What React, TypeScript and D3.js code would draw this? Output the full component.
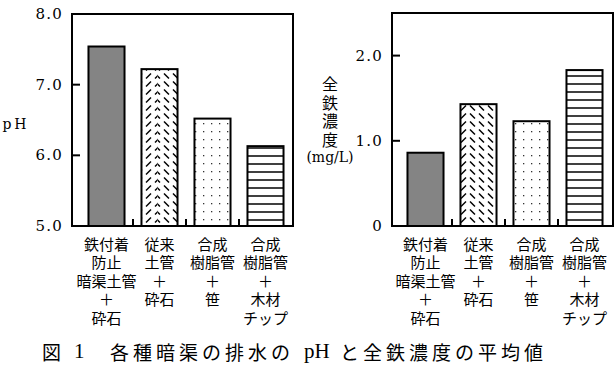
import React from 'react';
import * as d3 from 'd3';

const categories = [
  ['鉄付着', '防止', '暗渠土管', '＋', '砕石'],
  ['従来', '土管', '＋', '砕石'],
  ['合成', '樹脂管', '＋', '笹'],
  ['合成', '樹脂管', '＋', '木材', 'チップ'],
];
const phValues = [7.54, 7.22, 6.52, 6.13];
const ironValues = [0.86, 1.43, 1.23, 1.83];
const phTicks = [5, 6, 7, 8];
const ironTicks = [0, 1, 2];
const barStyles = ['solid', 'herring', 'dots', 'hlines'];
const ironLabel = ['全', '鉄', '濃', '度'];
const captionHead = '図';
const captionNum = '1';
const captionA = '各種暗渠の排水の';
const captionPH = 'pH';
const captionB = 'と全鉄濃度の平均値';

const CJK = '"Noto Sans CJK JP", sans-serif';
const SERIF = '"DejaVu Serif", serif';
const TIMES = '"Liberation Serif", serif';

type PanelProps = {
  id: string;
  frameX0: number;
  frameX1: number;
  bandX0: number;
  bandX1: number;
  top: number;
  bottom: number;
  domain: [number, number];
  ticks: number[];
  fmt: (v: number) => string;
  values: number[];
  leftStrip: number;
};

function Panel(p: PanelProps) {
  const idx = d3.range(categories.length);
  const x = d3.scaleBand<number>().domain(idx).range([p.bandX0, p.bandX1]).paddingInner(0.32).paddingOuter(0.16);
  const xb = d3.scaleBand<number>().domain(idx).range([p.bandX0, p.bandX1]);
  const y = d3.scaleLinear().domain(p.domain).range([p.bottom, p.top]);
  const bw = x.bandwidth();
  return (
    <g>
      {p.values.map((v, i) => {
        const bx = x(i)!;
        const by = y(v);
        const bh = p.bottom - by;
        const st = barStyles[i];
        const clip = `${p.id}-clip-${i}`;
        return (
          <g key={i}>
            <clipPath id={clip}>
              <rect x={bx} y={by} width={bw} height={bh} />
            </clipPath>
            <rect x={bx} y={by} width={bw} height={bh} fill={st === 'solid' ? '#848484' : '#fff'} />
            {st === 'herring' && (
              <g clipPath={`url(#${clip})`}>
                <rect x={bx} y={by} width={bw} height={bh} fill="url(#pat-back)" />
                <rect x={bx} y={by} width={p.leftStrip} height={bh} fill="#fff" />
                <rect x={bx} y={by} width={p.leftStrip} height={bh} fill="url(#pat-fwd)" />
              </g>
            )}
            {st === 'dots' && <rect x={bx} y={by} width={bw} height={bh} fill="url(#pat-dots)" />}
            {st === 'hlines' && <rect x={bx} y={by} width={bw} height={bh} fill="url(#pat-hlines)" />}
            <rect x={bx} y={by} width={bw} height={bh} fill="none" stroke="#000" strokeWidth={2} />
          </g>
        );
      })}
      <rect x={p.frameX0} y={p.top} width={p.frameX1 - p.frameX0} height={p.bottom - p.top} fill="none" stroke="#000" strokeWidth={2} />
      {p.ticks.map((t) => (
        <g key={t}>
          {t !== p.domain[0] && t !== p.domain[1] && (
            <line x1={p.frameX0} x2={p.frameX0 + 8} y1={y(t)} y2={y(t)} stroke="#000" strokeWidth={2} />
          )}
          <text x={p.frameX0 - 9} y={y(t)} textAnchor="end" dominantBaseline="central" fontFamily={SERIF} fontSize={15} letterSpacing={1.2} fill="#000">
            {p.fmt(t)}
          </text>
        </g>
      ))}
      {d3.range(1, categories.length).map((i) => (
        <line key={i} x1={xb(i)!} x2={xb(i)!} y1={p.bottom} y2={p.bottom - 7} stroke="#000" strokeWidth={2} />
      ))}
      {categories.map((lines, i) => (
        <text key={i} textAnchor="middle" fontFamily={CJK} fontSize={15} fill="#000">
          {lines.map((l, j) => (
            <tspan key={j} x={xb(i)! + xb.bandwidth() / 2} y={243 + j * 18.5} dominantBaseline="central">
              {l}
            </tspan>
          ))}
        </text>
      ))}
    </g>
  );
}

export default function App() {
  return (
    <svg width={616} height={370} style={{ position: 'absolute', left: 0, top: 0, background: '#fff' }}>
      <defs>
        <pattern id="pat-back" width={9} height={8} patternUnits="userSpaceOnUse">
          <line x1={2} y1={1.5} x2={7} y2={6.5} stroke="#000" strokeWidth={1.5} />
        </pattern>
        <pattern id="pat-fwd" width={9} height={8} patternUnits="userSpaceOnUse">
          <line x1={2} y1={6.5} x2={7} y2={1.5} stroke="#000" strokeWidth={1.5} />
        </pattern>
        <pattern id="pat-dots" width={8} height={8} patternUnits="userSpaceOnUse">
          <rect x={3} y={3} width={1.3} height={1.3} fill="#333" />
        </pattern>
        <pattern id="pat-hlines" width={10} height={8} patternUnits="userSpaceOnUse">
          <line x1={0} x2={10} y1={4} y2={4} stroke="#000" strokeWidth={1.5} />
        </pattern>
      </defs>
      <rect width={616} height={370} fill="#fff" />
      <Panel id="ph" frameX0={72} frameX1={293} bandX0={80} bandX1={292} top={14} bottom={226}
        domain={[5, 8]} ticks={phTicks} fmt={(v) => v.toFixed(1)} values={phValues} leftStrip={16} />
      <Panel id="fe" frameX0={392} frameX1={613} bandX0={399} bandX1={611} top={13} bottom={226}
        domain={[0, 2.5]} ticks={ironTicks} fmt={(v) => (v === 0 ? '0' : v.toFixed(1))} values={ironValues} leftStrip={8} />
      <text x={16} y={124} textAnchor="middle" dominantBaseline="central" fontFamily={SERIF} fontSize={14} letterSpacing={3} fill="#000">pH</text>
      <g fontFamily={CJK} fontSize={16} textAnchor="middle" fill="#000">
        {ironLabel.map((c, i) => (
          <text key={i} x={330} y={83 + i * 18.7} dominantBaseline="central">{c}</text>
        ))}
      </g>
      <text x={330} y={157} textAnchor="middle" dominantBaseline="central" fontFamily={SERIF} fontSize={14} fill="#000">(mg/L)</text>
      <g fill="#000">
        <text x={42} y={351} dominantBaseline="central" fontFamily={CJK} fontSize={19}>{captionHead}</text>
        <text x={74} y={351} dominantBaseline="central" fontFamily={TIMES} fontSize={21}>{captionNum}</text>
        <text x={110} y={351} dominantBaseline="central" fontFamily={CJK} fontSize={19} letterSpacing={4}>{captionA}</text>
        <text x={304} y={351} dominantBaseline="central" fontFamily={TIMES} fontSize={21}>{captionPH}</text>
        <text x={340} y={351} dominantBaseline="central" fontFamily={CJK} fontSize={19} letterSpacing={4}>{captionB}</text>
      </g>
    </svg>
  );
}
